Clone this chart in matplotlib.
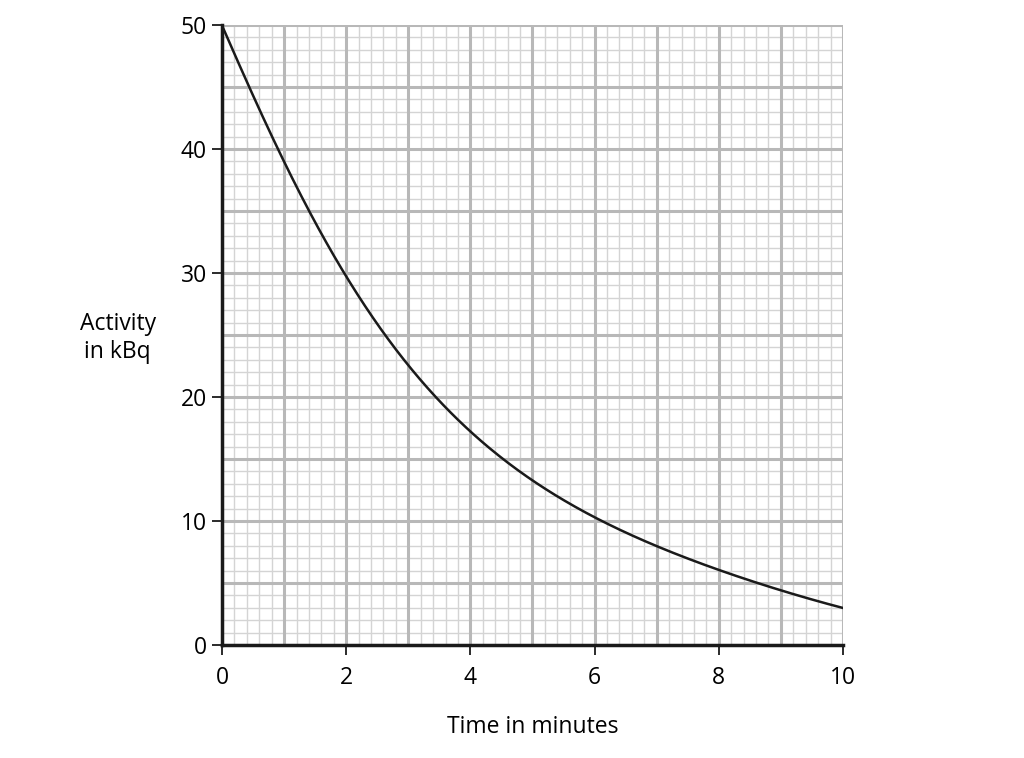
import numpy as np
import matplotlib.pyplot as plt
from matplotlib.ticker import MultipleLocator

plt.rcParams['font.family'] = ['Open Sans', 'DejaVu Sans']

# values
time_min = [0, 0.5, 1, 1.5, 2, 2.5, 3, 3.5, 4, 5, 6, 7, 8, 9, 10]
activity_kbq = [50, 44.2, 38.8, 34.2, 30.1, 26.0, 22.4, 19.5, 17.2, 13.3, 10.3, 8.1, 6.0, 4.4, 3.0]
x_ticks = [0, 2, 4, 6, 8, 10]
y_ticks = [0, 10, 20, 30, 40, 50]

fig = plt.figure(figsize=(10.24, 7.58), dpi=100)
ax = fig.add_axes([0.2168, 0.149, 0.6064, 0.818])

# smooth the read points
t = np.linspace(0, 10, 400)
coef = np.polyfit(time_min, np.log(activity_kbq), 4)
ax.plot(t, np.exp(np.polyval(coef, t)), color='#1a1a1a', lw=1.8, zorder=5)

ax.set_xlim(0, 10)
ax.set_ylim(0, 50)
ax.set_xticks(x_ticks)
ax.set_yticks(y_ticks)
ax.xaxis.set_minor_locator(MultipleLocator(0.2))
ax.yaxis.set_minor_locator(MultipleLocator(1))

# graph paper
for v in np.arange(0, 10.01, 0.2):
    major = abs(v - round(v)) < 1e-6
    ax.axvline(v, color='#b8b8b8' if major else '#d4d4d4', lw=2.2 if major else 1.0, zorder=1 if major else 0)
for v in np.arange(0, 50.01, 1):
    major = int(round(v)) % 5 == 0
    ax.axhline(v, color='#b8b8b8' if major else '#d4d4d4', lw=2.2 if major else 1.0, zorder=1 if major else 0)

for s in ['top', 'right']:
    ax.spines[s].set_visible(False)
for s in ['left', 'bottom']:
    ax.spines[s].set_linewidth(2.5)
    ax.spines[s].set_color('#1a1a1a')
    ax.spines[s].set_zorder(6)

ax.tick_params(which='major', direction='out', length=7, width=1.3, color='#1a1a1a',
               labelsize=16.5, pad=4)
ax.tick_params(axis='x', which='major', pad=8)
ax.tick_params(which='minor', length=0)

ax.set_xlabel('Time in minutes', fontsize=16.5, labelpad=18)
fig.text(0.115, 0.554, 'Activity\nin kBq', fontsize=16.5, ha='center', va='center', linespacing=1.25)

fig.savefig('out.png', dpi=100)
